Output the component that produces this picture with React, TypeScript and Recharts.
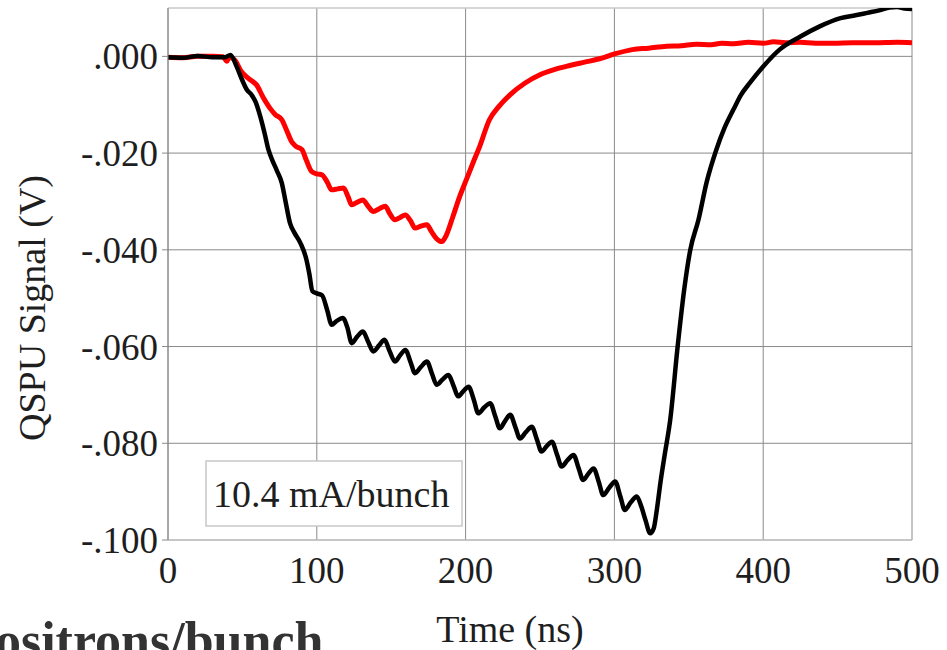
import React from "react";
import { LineChart, Line, XAxis, YAxis, CartesianGrid, ReferenceLine } from "recharts";

const xTicks = [0, 100, 200, 300, 400, 500];
const yTicks = [0, -0.02, -0.04, -0.06, -0.08, -0.1];
const yTickLabels = [".000", "-.020", "-.040", "-.060", "-.080", "-.100"];

// 10.4 mA/bunch high-current trace (black): [time ns, signal V]
const blackSeries: [number, number][] = [
  [0, -0.0002], [10, -0.0003], [20, 0.0001], [30, -0.0002], [38, -0.0002], [42, 0.0003],
  [46, -0.002], [50, -0.005], [53, -0.0069], [56, -0.0079], [59, -0.0095], [62, -0.0124],
  [65, -0.016], [67.5, -0.0193], [70, -0.0214], [73, -0.0235], [76.5, -0.0262], [79, -0.03],
  [82, -0.0345], [85, -0.0365], [89, -0.0386], [93, -0.042], [95, -0.045], [97, -0.0485],
  [100, -0.049], [103.5, -0.0494], [107, -0.0525], [110, -0.0555], [113, -0.0548],
  [117.5, -0.0541], [120.5, -0.056], [123.5, -0.0593], [127, -0.058], [131, -0.0569],
  [134.5, -0.059], [138, -0.061], [142, -0.0597], [145.5, -0.0586], [149, -0.061],
  [152.5, -0.0631], [156, -0.0618], [159.5, -0.0607], [163, -0.0632], [166, -0.0655],
  [170, -0.0642], [174, -0.0631], [177.5, -0.0657], [180.5, -0.0679], [184.5, -0.0668],
  [188.5, -0.0659], [192, -0.0682], [195, -0.0703], [198.5, -0.0692], [202, -0.0683],
  [205.5, -0.071], [208.5, -0.0738], [212.5, -0.0726], [216.5, -0.0717], [220, -0.0745],
  [223, -0.0769], [226.5, -0.0754], [230, -0.0741], [233.5, -0.0767], [236.5, -0.079],
  [240.5, -0.0777], [244.5, -0.0766], [248, -0.0793], [251, -0.0817], [254.5, -0.0806],
  [258, -0.0797], [261.5, -0.0824], [264.5, -0.0848], [268.5, -0.0835], [272.5, -0.0824],
  [276, -0.0852], [279, -0.0876], [282.5, -0.0863], [286, -0.0852], [289.5, -0.088],
  [292.5, -0.0907], [296.5, -0.0892], [300.5, -0.0879], [304, -0.091], [307, -0.0938],
  [311, -0.0922], [315, -0.091], [318, -0.093], [321, -0.096], [324, -0.0986],
  [326.5, -0.0975], [328.5, -0.0938], [331, -0.088], [334, -0.082], [337.5, -0.0752],
  [342.5, -0.06], [347, -0.048], [351, -0.04], [356.5, -0.0338], [362, -0.026],
  [368.5, -0.0193], [374, -0.0148], [380, -0.011], [385, -0.008], [391, -0.0055],
  [400, -0.0021], [411, 0.0014], [425, 0.0041], [438, 0.0062], [452, 0.0079],
  [462, 0.0085], [470, 0.009], [478, 0.0095], [485, 0.0101], [490, 0.0102],
  [495, 0.0099], [500, 0.0098],
];

// lower-current trace (red): [time ns, signal V]
const redSeries: [number, number][] = [
  [0, -0.0002], [10, -0.0003], [20, 0], [30, 0], [37, -0.0001], [39.5, -0.001], [41, -0.0002],
  [45, -0.0008], [49, -0.003], [53, -0.0043], [56, -0.005], [59.5, -0.0059], [64, -0.0085],
  [68.5, -0.0107], [72, -0.012], [76.5, -0.0131], [80, -0.0155], [83, -0.0176], [86, -0.0186],
  [90, -0.0193], [93, -0.0215], [96.5, -0.0238], [100, -0.0243], [103.5, -0.0245],
  [107, -0.026], [110, -0.0276], [114, -0.0274], [118, -0.0272], [121, -0.029],
  [123.5, -0.0307], [127.5, -0.0301], [131, -0.0297], [134.5, -0.031], [138, -0.0321],
  [142, -0.0315], [146, -0.031], [149, -0.0325], [152.5, -0.0338], [156, -0.0333],
  [159.5, -0.0328], [163, -0.034], [166, -0.0355], [170, -0.0351], [174, -0.0348],
  [177, -0.0362], [180.5, -0.0377], [184, -0.0383], [187, -0.037], [191.5, -0.0331],
  [196, -0.029], [200.5, -0.0255], [205, -0.022], [209.5, -0.0186], [216, -0.0131],
  [222, -0.0105], [230, -0.0079], [240, -0.0055], [250, -0.0038], [260, -0.0027],
  [270, -0.0019], [280, -0.0012], [290, -0.0005], [300, 0.0005], [312, 0.0014],
  [323, 0.0017], [335, 0.0021], [345, 0.0022], [355, 0.0025], [365, 0.0024], [372, 0.0027],
  [380, 0.0026], [390, 0.0029], [400, 0.0027], [407, 0.003], [415, 0.0028], [425, 0.0029],
  [435, 0.0027], [447, 0.0027], [460, 0.0028], [475, 0.0028], [490, 0.0029], [500, 0.0028],
];

const annotationText = "10.4 mA/bunch";
const xTitle = "Time (ns)";
const yTitle = "QSPU Signal (V)";
const bottomText = "positrons/bunch";

const blackData = blackSeries.map(([t, v]) => ({ t, v }));
const redData = redSeries.map(([t, v]) => ({ t, v }));

const FONT = "'Liberation Serif', 'Times New Roman', Times, serif";

const yFormat = (v: number) => {
  const i = yTicks.findIndex((y) => Math.abs(y - v) < 1e-9);
  return i >= 0 ? yTickLabels[i] : String(v);
};

export default function App() {
  return (
    <div style={{ position: "absolute", left: 0, top: 0, width: 947, height: 650, background: "#fff" }}>
      <LineChart width={947} height={650} margin={{ top: 8, right: 35, bottom: 0, left: 0 }}>
        <CartesianGrid stroke="#8a8a8a" strokeWidth={1} />
        <ReferenceLine y={0.01} stroke="#e8e8e8" strokeWidth={1} ifOverflow="extendDomain" />
        <XAxis
          type="number"
          dataKey="t"
          domain={[0, 500]}
          ticks={xTicks}
          height={110}
          tickLine={false}
          tickSize={6}
          tickMargin={11}
          axisLine={{ stroke: "#c8c8c8" }}
          tick={{ fontFamily: FONT, fontSize: 37, fill: "#1e1e1e" }}
          allowDataOverflow
        />
        <YAxis
          type="number"
          domain={[-0.1, 0.01]}
          ticks={yTicks}
          width={168}
          tickFormatter={yFormat}
          tickSize={6}
          tickMargin={4}
          tickLine={{ stroke: "#8a8a8a" }}
          axisLine={{ stroke: "#8a8a8a" }}
          tick={{ fontFamily: FONT, fontSize: 37, fill: "#1e1e1e" }}
          allowDataOverflow
        />
        <rect x={206} y={461} width={256} height={65} fill="#ffffff" stroke="#c8c8c8" strokeWidth={1.5} />
        <text x={213} y={507} fontFamily={FONT} fontSize={38} fill="#1e1e1e">
          {annotationText}
        </text>
        <text x={510} y={642} textAnchor="middle" fontFamily={FONT} fontSize={38} fill="#1e1e1e">
          {xTitle}
        </text>
        <text
          x={45}
          y={308}
          textAnchor="middle"
          transform="rotate(-90 45 308)"
          fontFamily={FONT}
          fontSize={38}
          fill="#1e1e1e"
        >
          {yTitle}
        </text>
        <text x={-34} y={658} fontFamily={FONT} fontSize={52} fontWeight="bold" fill="#333333">
          {bottomText}
        </text>
        <Line
          data={redData}
          dataKey="v"
          type="monotone"
          stroke="#ff0000"
          strokeWidth={5}
          dot={false}
          isAnimationActive={false}
        />
        <Line
          data={blackData}
          dataKey="v"
          type="monotone"
          stroke="#000000"
          strokeWidth={4.5}
          dot={false}
          isAnimationActive={false}
        />
      </LineChart>
    </div>
  );
}
